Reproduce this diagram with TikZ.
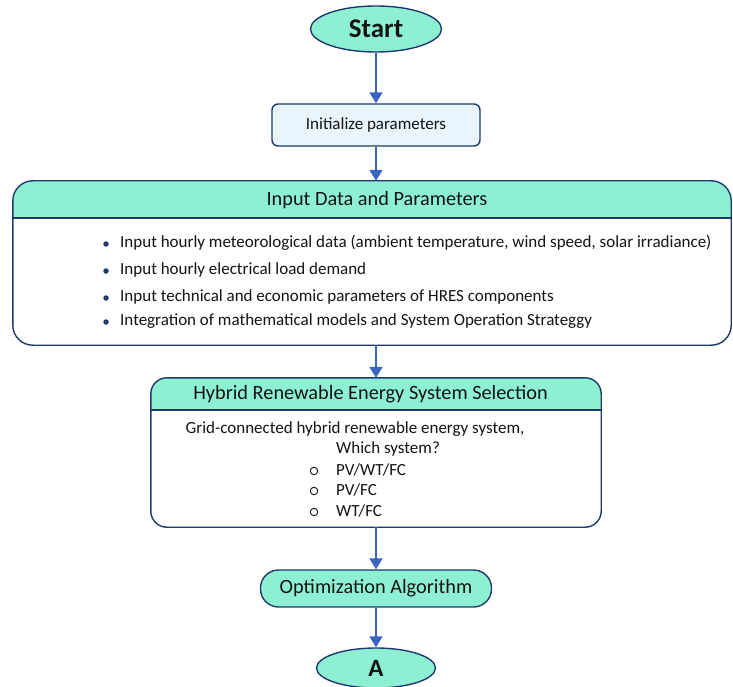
\documentclass[tikz,border=0pt]{standalone}
\usepackage{fontspec}
\setmainfont{Carlito}
\usetikzlibrary{arrows.meta,shapes.geometric}
\definecolor{navy}{HTML}{1F3A6E}
\definecolor{arrblue}{HTML}{3A66C0}
\definecolor{mint}{HTML}{8EF0D2}
\definecolor{lblue}{HTML}{EAF4FC}
\definecolor{txt}{HTML}{141414}
\tikzset{
  arr/.style={draw=arrblue,line width=1.8pt,-{Triangle[width=13pt,length=11pt]}},
  oval/.style={ellipse,draw=navy,line width=1.4pt,fill=mint,inner sep=0pt,text=txt},
  boxline/.style={draw=navy,line width=1.4pt},
  body/.style={font=\fontsize{17}{20}\selectfont,text=txt,inner sep=0pt,anchor=west},
  head/.style={font=\fontsize{20.3}{24}\selectfont,text=txt,inner sep=0pt},
  dot/.style={circle,fill=navy,inner sep=0pt,minimum size=5.5pt},
  ring/.style={circle,draw=txt,line width=0.9pt,inner sep=0pt,minimum size=7.5pt}
}
\begin{document}
\begin{tikzpicture}[x=1pt,y=-1pt]
\useasboundingbox (0,0) rectangle (733,687);
% Start
\node[oval,minimum width=131pt,minimum height=46pt,font=\fontsize{27}{30}\selectfont\bfseries] (start) at (376,29) {Start};
% Initialize
\node[boxline,fill=lblue,rounded corners=6pt,minimum width=208pt,minimum height=42pt,font=\fontsize{17}{20}\selectfont,text=txt,inner sep=0pt] (init) at (376,125) {Initialize parameters};
% Input data box
\node[minimum width=718pt,minimum height=164pt,inner sep=0pt] (inp) at (372,263) {};
\begin{scope}
\clip[rounded corners=20pt] (inp.north west) rectangle (inp.south east);
\fill[white] (inp.north west) rectangle (inp.south east);
\fill[mint] (inp.north west) rectangle ([yshift=-37pt]inp.north east);
\end{scope}
\draw[boxline] ([yshift=-37pt]inp.north west) -- ([yshift=-37pt]inp.north east);
\draw[boxline,rounded corners=20pt] (inp.north west) rectangle (inp.south east);
\node[head] (inph) at (377,200) {Input Data and Parameters};
\node[body] (b1) at (120,243) {Input hourly meteorological data (ambient temperature, wind speed, solar irradiance)};
\node[body] (b2) at (120,270) {Input hourly electrical load demand};
\node[body] (b3) at (120,297) {Input technical and economic parameters of HRES components};
\node[body] (b4) at (120,321) {Integration of mathematical models and System Operation Strateggy};
\node[dot] (d1) at (106,244) {};
\node[dot] (d2) at (106,271) {};
\node[dot] (d3) at (106,298) {};
\node[dot] (d4) at (106,322) {};
% HRES box
\node[minimum width=450pt,minimum height=149pt,inner sep=0pt] (hres) at (376,452.5) {};
\begin{scope}
\clip[rounded corners=16pt] (hres.north west) rectangle (hres.south east);
\fill[white] (hres.north west) rectangle (hres.south east);
\fill[mint] (hres.north west) rectangle ([yshift=-32pt]hres.north east);
\end{scope}
\draw[boxline] ([yshift=-32pt]hres.north west) -- ([yshift=-32pt]hres.north east);
\draw[boxline,rounded corners=16pt] (hres.north west) rectangle (hres.south east);
\node[head] (hresh) at (370.5,394) {Hybrid Renewable Energy System Selection};
\node[body,anchor=center] (g1) at (355,429) {Grid-connected hybrid renewable energy system,};
\node[body] (g2) at (336,449) {Which system?};
\node[body] (s1) at (336,470) {PV/WT/FC};
\node[body] (s2) at (336,490) {PV/FC};
\node[body] (s3) at (336,511) {WT/FC};
\node[ring] (r1) at (314,471) {};
\node[ring] (r2) at (314,491) {};
\node[ring] (r3) at (314,512) {};
% Optimization
\node[draw=navy,line width=1.4pt,fill=mint,rounded corners=18pt,minimum width=231pt,minimum height=37pt,inner sep=0pt,text=txt,font=\fontsize{20.3}{24}\selectfont] (opt) at (376,588.5) {Optimization Algorithm};
% A
\node[oval,minimum width=119pt,minimum height=40pt,font=\fontsize{25}{28}\selectfont\bfseries] (A) at (376,668) {A};
% arrows
\draw[arr] (start) -- (init);
\draw[arr] (init) -- (init|-inp.north);
\draw[arr] (inp.south-|hres.north) -- (hres.north);
\draw[arr] (hres.south-|opt.north) -- (opt.north);
\draw[arr] (opt) -- (A);
\end{tikzpicture}
\end{document}
